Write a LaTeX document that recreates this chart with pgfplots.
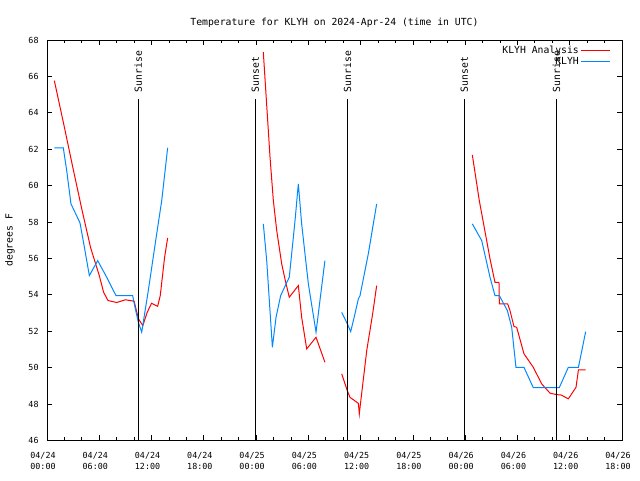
\documentclass[border=0pt]{standalone}
\usepackage{pgfplots}
\pgfplotsset{compat=1.18}
\usepackage{fontspec}
\setmainfont{DejaVu Sans Mono}
\definecolor{gblue}{RGB}{0,136,255}
\definecolor{gred}{RGB}{255,0,0}
\newcommand{\gfont}{\fontsize{9.8}{12}\selectfont}
\newcommand{\tfont}{\fontsize{8.4}{11.5}\selectfont}

\pgfplotstableread{
h t
0.84 65.77
2 63.2
3 60.92
4 58.7
5 56.6
6 55.06
6.5 54.14
7 53.69
8 53.58
9 53.73
10 53.65
10.5 52.68
11 52.31
11.5 53.04
12 53.54
12.7 53.37
13 53.96
13.5 56.07
13.85 57.13
14 nan
24.83 67.33
25.6 61.56
25.98 59.18
26.37 57.53
26.94 55.7
27.4 54.69
27.81 53.87
28.85 54.51
29.23 52.77
29.81 51.03
30.88 51.67
31.9 50.3
32 nan
33.83 49.66
34.47 48.74
34.78 48.37
35.74 48.04
35.85 47.46
36.0 48.1
36.7 50.94
37.38 52.96
37.84 54.51
38 nan
48.82 61.69
49.62 59.18
50.08 57.99
50.85 55.98
51.42 54.69
51.88 54.69
51.92 53.5
52.88 53.5
53.14 53.14
53.6 52.26
53.91 52.22
54.75 50.76
55.82 50.02
56.78 49.11
57.74 48.6
58.5 48.52
59.0 48.5
59.84 48.29
60.72 48.92
61.0 49.88
61.83 49.88
}\redtab

\pgfplotstableread{
h t
0.84 62.08
1.87 62.08
2.26 60.83
2.75 59.0
3.79 57.95
4.36 56.43
4.86 55.06
5.82 55.88
6.85 54.97
7.92 53.96
9.83 53.96
10.1 53.32
10.48 52.5
10.87 51.95
11.63 54.24
12.59 57.35
13.17 59.18
13.85 62.08
14 nan
24.83 57.9
25.22 55.88
25.87 51.12
26.29 52.77
26.82 53.96
27.81 54.97
28.47 58.08
28.85 60.1
29.23 57.9
30.0 54.6
30.88 51.95
31.9 55.88
32 nan
33.83 53.04
34.47 52.41
34.86 51.98
35.35 52.96
35.74 53.78
35.93 53.96
36.88 56.25
37.84 59.0
38 nan
48.82 57.9
49.9 56.98
50.85 54.97
51.42 53.96
51.92 53.96
52.84 53.14
53.34 52.22
53.83 50.02
54.75 50.02
55.82 48.9
58.8 48.9
59.84 50.02
61.0 50.02
61.83 51.98
}\bluetab

\begin{document}
\gfont
\begin{tikzpicture}
\path[use as bounding box] (-47bp,-40bp) rectangle (593bp,440.5bp);
\begin{axis}[
  at={(0,0)}, anchor=south west,
  scale only axis, width=575bp, height=400.5bp,
  xmin=0, xmax=66, ymin=46, ymax=68,
  xtick={0,6,...,66},
  xticklabels={{04/24\\00:00},{04/24\\06:00},{04/24\\12:00},{04/24\\18:00},{04/25\\00:00},{04/25\\06:00},{04/25\\12:00},{04/25\\18:00},{04/26\\00:00},{04/26\\06:00},{04/26\\12:00},{04/26\\18:00}},
  minor x tick num=2,
  ytick={46,48,...,68},
  /pgf/number format/assume math mode=true,
  yticklabel style={font=\tfont, xshift=-5bp},
  xticklabel style={align=center, font=\tfont, xshift=-4bp, yshift=-8bp},
  tick align=inside,
  major tick length=5bp, minor tick length=3bp,
  tick style={black, line width=0.8bp},
  axis line style={line width=0.9bp},
  title={Temperature for KLYH on 2024-Apr-24 (time in UTC)},
  title style={font=\gfont, at={(axis description cs:0.5,1)}, anchor=base, yshift=9bp},
  ylabel={degrees F},
  ylabel style={font=\gfont, at={(axis description cs:-0.0643,0.5)}, anchor=center},
  unbounded coords=jump,
  legend style={draw=none, fill=none, font=\gfont, at={(axis description cs:1,1)}, anchor=north east, xshift=-8bp, yshift=-2bp, row sep=-1.5bp},
  legend plot pos=right,
  legend cell align=right,
  legend image code/.code={\draw[#1] (0bp,0bp) -- (29bp,0bp);},
  clip=false,
]
\addplot[gred, line width=1bp] table[x=h,y=t] {\redtab};
\addlegendentry{KLYH Analysis}
\addplot[gblue, line width=1bp] table[x=h,y=t] {\bluetab};
\addlegendentry{KLYH}
\addplot[black, line width=0.9bp, forget plot] coordinates {(10.48,46) (10.48,64.75)};
\addplot[black, line width=0.9bp, forget plot] coordinates {(23.92,46) (23.92,64.75)};
\addplot[black, line width=0.9bp, forget plot] coordinates {(34.48,46) (34.48,64.75)};
\addplot[black, line width=0.9bp, forget plot] coordinates {(47.9,46) (47.9,64.75)};
\addplot[black, line width=0.9bp, forget plot] coordinates {(58.48,46) (58.48,64.75)};
\node[rotate=90, anchor=west, font=\gfont, inner sep=0pt] at (axis cs:10.48,65.12) {Sunrise};
\node[rotate=90, anchor=west, font=\gfont, inner sep=0pt] at (axis cs:23.92,65.12) {Sunset};
\node[rotate=90, anchor=west, font=\gfont, inner sep=0pt] at (axis cs:34.48,65.12) {Sunrise};
\node[rotate=90, anchor=west, font=\gfont, inner sep=0pt] at (axis cs:47.9,65.12) {Sunset};
\node[rotate=90, anchor=west, font=\gfont, inner sep=0pt] at (axis cs:58.48,65.12) {Sunrise};
\end{axis}
\end{tikzpicture}
\end{document}
